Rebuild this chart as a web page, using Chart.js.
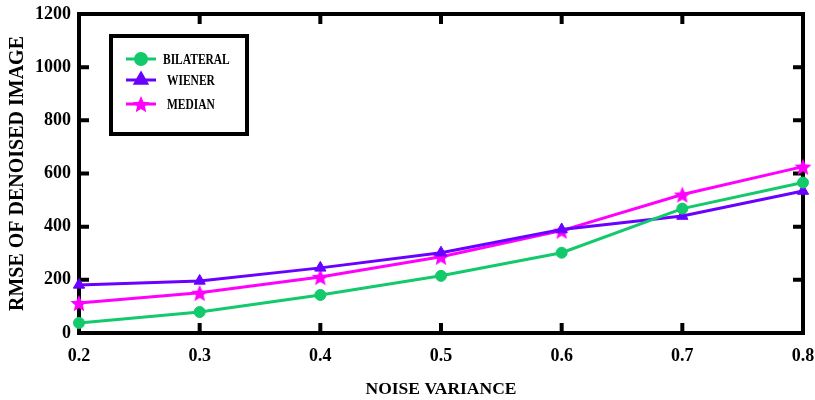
<!DOCTYPE html>
<html>
<head>
<meta charset="utf-8">
<script src="https://cdn.jsdelivr.net/npm/chart.js@4.4.1/dist/chart.umd.min.js"></script>
<style>
    html, body { margin: 0; padding: 0; background: #ffffff; }
    #wrap { width: 815px; height: 400px; }
</style>
</head>
<body>
<div id="wrap"><canvas id="rmseChart" width="815" height="400"></canvas></div>
<script>
const noiseVariance = [0.2, 0.3, 0.4, 0.5, 0.6, 0.7, 0.8]
const bilateral = [38, 79, 143, 215, 302, 468, 566]
const wiener = [181, 196, 245, 302, 389, 440, 534]
const median = [113, 151, 211, 287, 385, 521, 626]
const yTicks = [0, 200, 400, 600, 800, 1000, 1200]

const serif = "'Liberation Serif', 'Times New Roman', serif"

// filled five point star used as point style
function makeStar(color, r) {
    const c = document.createElement('canvas')
    c.width = r * 2 + 2
    c.height = r * 2 + 2
    const g = c.getContext('2d')
    g.fillStyle = color
    g.beginPath()
    for (let i = 0; i < 10; i++) {
        const rad = i % 2 === 0 ? r : r * 0.45
        const a = -Math.PI / 2 + i * Math.PI / 5
        g.lineTo(c.width / 2 + rad * Math.cos(a), c.height / 2 + 1 + rad * Math.sin(a))
    }
    g.closePath()
    g.fill()
    return c
}

const toPoints = vals => vals.map((v, i) => ({ x: noiseVariance[i], y: v }))

const frame = {
    id: 'frame',
    beforeDatasetsDraw(chart) {
        const { ctx, chartArea: a, scales } = chart
        ctx.save()
        ctx.strokeStyle = '#000'
        ctx.lineWidth = 4
        ctx.strokeRect(a.left, a.top, a.right - a.left, a.bottom - a.top)
        ctx.beginPath()
        yTicks.forEach(v => {
            const y = scales.y.getPixelForValue(v)
            ctx.moveTo(a.left, y); ctx.lineTo(a.left + 10, y)
            ctx.moveTo(a.right, y); ctx.lineTo(a.right - 10, y)
        })
        noiseVariance.forEach(v => {
            const x = scales.x.getPixelForValue(v)
            ctx.moveTo(x, a.bottom); ctx.lineTo(x, a.bottom - 10)
            ctx.moveTo(x, a.top); ctx.lineTo(x, a.top + 10)
        })
        ctx.stroke()
        ctx.restore()
    },
    afterDraw(chart) {
        const ctx = chart.ctx
        ctx.save()
        ctx.strokeStyle = '#000'
        ctx.lineWidth = 4
        ctx.strokeRect(111, 36, 136, 98)
        ctx.textBaseline = 'middle'
        const rows = [59, 80, 104]
        chart.data.datasets.forEach((ds, i) => {
            const y = rows[i]
            ctx.strokeStyle = ds.borderColor
            ctx.lineWidth = 3
            ctx.beginPath()
            ctx.moveTo(126, y); ctx.lineTo(156, y)
            ctx.stroke()
            const style = ds.pointStyle
            if (style instanceof HTMLCanvasElement) {
                ctx.drawImage(style, 141 - style.width / 2, y - style.height / 2)
            } else {
                ctx.fillStyle = ds.backgroundColor
                ctx.strokeStyle = ds.borderColor
                Chart.helpers.drawPoint(ctx, { pointStyle: style, radius: ds.pointRadius, borderWidth: 1 }, 141, y)
            }
            // condensed bold legend text
            ctx.save()
            ctx.translate(163 + (i > 0 ? 4 : 0), y)
            ctx.scale(0.82, 1)
            ctx.font = 'bold 14px ' + serif
            ctx.fillStyle = '#000'
            ctx.fillText(ds.label, 0, 1)
            ctx.restore()
        })
        ctx.restore()
    }
}

new Chart(document.getElementById('rmseChart'), {
    type: 'line',
    data: {
        datasets: [{
            label: 'BILATERAL',
            data: toPoints(bilateral),
            borderColor: '#12c96b',
            backgroundColor: '#12c96b',
            pointStyle: 'circle',
            pointRadius: 5.5
        }, {
            label: 'WIENER',
            data: toPoints(wiener),
            borderColor: '#6a00ff',
            backgroundColor: '#6a00ff',
            pointStyle: 'triangle',
            pointRadius: 6.5
        }, {
            label: 'MEDIAN',
            data: toPoints(median),
            borderColor: '#ff00ff',
            backgroundColor: '#ff00ff',
            pointStyle: makeStar('#ff00ff', 9),
            pointRadius: 9
        }]
    },
    options: {
        responsive: false,
        animation: false,
        layout: { padding: { top: 14, right: 12, left: 0, bottom: 0 } },
        datasets: { line: { borderWidth: 3, clip: false, tension: 0, pointBorderWidth: 1 } },
        plugins: { legend: { display: false }, tooltip: { enabled: false } },
        scales: {
            x: {
                type: 'linear',
                min: 0.2,
                max: 0.8,
                afterBuildTicks: s => { s.ticks = noiseVariance.map(v => ({ value: v })) },
                afterFit: s => { s.height = 67; s.paddingLeft = 0; s.paddingRight = 0 },
                grid: { display: false, drawTicks: false },
                border: { display: false },
                ticks: {
                    padding: 13,
                    color: '#000',
                    font: { family: serif, size: 18, weight: 'bold' },
                    callback: v => v.toFixed(1)
                },
                title: {
                    display: true,
                    text: 'NOISE VARIANCE',
                    color: '#000',
                    font: { family: serif, size: 17.5, weight: 'bold' },
                    padding: { top: 4, bottom: 0 }
                }
            },
            y: {
                min: 0,
                max: 1200,
                afterBuildTicks: s => { s.ticks = yTicks.map(v => ({ value: v })) },
                afterFit: s => { s.width = 79; s.paddingTop = 0; s.paddingBottom = 0 },
                grid: { display: false, drawTicks: false },
                border: { display: false },
                ticks: {
                    padding: 8,
                    color: '#000',
                    font: { family: serif, size: 18, weight: 'bold' },
                    callback: v => String(v)
                },
                title: {
                    display: true,
                    text: 'RMSE OF DENOISED IMAGE',
                    color: '#000',
                    font: { family: serif, size: 20, weight: 'bold' },
                    padding: { top: 6, bottom: 0 }
                }
            }
        }
    },
    plugins: [frame]
})
</script>
</body>
</html>
